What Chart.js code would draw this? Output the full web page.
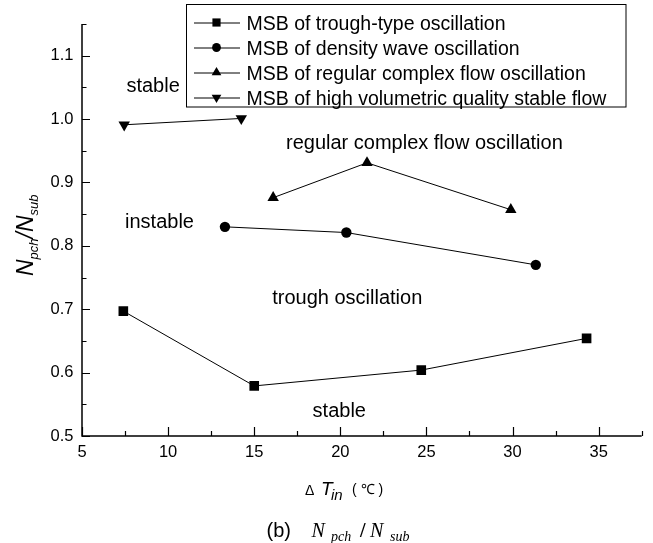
<!DOCTYPE html>
<html>
<head>
<meta charset="utf-8">
<script src="https://cdn.jsdelivr.net/npm/chart.js@4/dist/chart.umd.min.js"></script>
<style>
    html, body { margin: 0; padding: 0; background: #fff; }
    #wrap { width: 653px; height: 543px; }
</style>
</head>
<body>
<div id="wrap"><canvas id="chart" width="653" height="543"></canvas></div>
<script>
// values
const troughX = [7.4, 15.0, 24.7, 34.3];
const troughY = [0.697, 0.579, 0.604, 0.654];
const densityX = [13.3, 20.35, 31.35];
const densityY = [0.830, 0.821, 0.770];
const complexX = [16.1, 21.55, 29.9];
const complexY = [0.876, 0.931, 0.857];
const highQX = [7.45, 14.25];
const highQY = [0.991, 1.001];

const seriesLabels = [
    'MSB of trough-type oscillation',
    'MSB of density wave oscillation',
    'MSB of regular complex flow oscillation',
    'MSB of high volumetric quality stable flow'
];
const xTicks = [5, 10, 15, 20, 25, 30, 35];
const yTicks = [0.5, 0.6, 0.7, 0.8, 0.9, 1.0, 1.1];
const regionLabels = ['stable', 'instable', 'regular complex flow oscillation', 'trough oscillation', 'stable'];

const SANS = '"Liberation Sans", Arial, sans-serif';
const SERIF = '"Liberation Serif", "Times New Roman", serif';

function toPoints(xs, ys) {
    return xs.map((x, i) => ({ x: x, y: ys[i] }));
}

function series(label, xs, ys, style, radius, rotation) {
    return {
        label: label,
        data: toPoints(xs, ys),
        showLine: true,
        borderColor: '#000',
        borderWidth: 1,
        backgroundColor: '#000',
        pointStyle: style,
        pointRadius: radius,
        pointRotation: rotation || 0,
        pointBorderWidth: 0,
        pointBackgroundColor: '#000'
    };
}

// axes, inward ticks, legend box and text labels
const decorations = {
    id: 'decorations',
    afterDraw(chart) {
        const ctx = chart.ctx;
        const xs = chart.scales.x, ys = chart.scales.y;
        const area = chart.chartArea;
        ctx.save();
        ctx.strokeStyle = '#000';
        ctx.fillStyle = '#000';

        ctx.lineWidth = 1.5;
        ctx.beginPath();
        ctx.moveTo(area.left, area.top);
        ctx.lineTo(area.left, area.bottom);
        ctx.lineTo(area.right, area.bottom);
        ctx.stroke();

        ctx.lineWidth = 1.2;
        ctx.beginPath();
        for (let v = 5; v <= 37.5; v += 2.5) {
            const px = Math.round(xs.getPixelForValue(v)) + 0.5;
            const len = (v % 5 === 0) ? 9 : 5;
            ctx.moveTo(px, area.bottom);
            ctx.lineTo(px, area.bottom - len);
        }
        for (let k = 0; k <= 13; k++) {
            const v = 0.5 + k * 0.05;
            const py = Math.round(ys.getPixelForValue(v)) + 0.5;
            const len = (k % 2 === 0) ? 8 : 4.5;
            ctx.moveTo(area.left, py);
            ctx.lineTo(area.left + len, py);
        }
        ctx.stroke();

        // region labels, placed in data units
        const spots = [[9.13, 1.042], [9.5, 0.828], [24.88, 0.953], [20.4, 0.7085], [19.94, 0.530]];
        ctx.font = '20px ' + SANS;
        ctx.textAlign = 'center';
        ctx.textBaseline = 'alphabetic';
        regionLabels.forEach((t, i) => {
            ctx.fillText(t, xs.getPixelForValue(spots[i][0]), ys.getPixelForValue(spots[i][1]));
        });

        // legend
        ctx.lineWidth = 1;
        ctx.strokeRect(186.5, 4.5, 439.5, 102.5);
        chart.data.datasets.forEach((ds, i) => {
            const cy = 22.5 + i * 25;
            ctx.beginPath();
            ctx.moveTo(194, cy + 0.5);
            ctx.lineTo(240, cy + 0.5);
            ctx.stroke();
            Chart.helpers.drawPoint(ctx, {
                pointStyle: ds.pointStyle,
                radius: ds.pointRadius * 0.85,
                rotation: ds.pointRotation,
                borderWidth: 0
            }, 216.5, cy);
            ctx.font = '19.5px ' + SANS;
            ctx.textAlign = 'left';
            ctx.fillText(ds.label, 246.5, cy + 7);
        });

        // x title
        ctx.textAlign = 'left';
        ctx.font = '14px ' + SANS;
        ctx.fillText('\u0394', 305, 494.5);
        ctx.font = 'italic 19px ' + SANS;
        ctx.fillText('T', 321, 495);
        ctx.font = 'italic 15px ' + SANS;
        ctx.fillText('in', 331, 500);
        ctx.font = '14px ' + SANS;
        ctx.fillText('( \u2103 )', 352, 494);

        // caption
        ctx.font = '20px ' + SANS;
        ctx.fillText('(b)', 266.5, 537);
        ctx.font = 'italic 20px ' + SERIF;
        ctx.fillText('N', 311.5, 537);
        ctx.fillText('N', 370, 537);
        ctx.font = 'italic 14px ' + SERIF;
        ctx.fillText('pch', 331, 541);
        ctx.fillText('sub', 390, 541);
        ctx.font = 'bold 20px ' + SERIF;
        ctx.fillText('/', 360, 537);

        // y title, rotated
        ctx.translate(33, 276);
        ctx.rotate(-Math.PI / 2);
        ctx.font = 'italic 23px ' + SANS;
        let x = 0;
        ctx.fillText('N', x, 0); x += ctx.measureText('N').width;
        ctx.font = 'italic 13px ' + SANS;
        ctx.fillText('pch', x, 5); x += ctx.measureText('pch').width;
        ctx.font = 'italic 23px ' + SANS;
        ctx.fillText('/', x, 0); x += ctx.measureText('/').width;
        ctx.fillText('N', x, 0); x += ctx.measureText('N').width;
        ctx.font = 'italic 13px ' + SANS;
        ctx.fillText('sub', x, 5);
        ctx.restore();
    }
};

new Chart(document.getElementById('chart'), {
    type: 'scatter',
    data: {
        datasets: [
            series(seriesLabels[0], troughX, troughY, 'rect', 6.8),
            series(seriesLabels[1], densityX, densityY, 'circle', 5.2),
            series(seriesLabels[2], complexX, complexY, 'triangle', 6.6),
            series(seriesLabels[3], highQX, highQY, 'triangle', 6.6, 180)
        ]
    },
    options: {
        responsive: false,
        animation: false,
        layout: { padding: { top: 24, right: 11.3, left: 0, bottom: 0 } },
        plugins: {
            legend: { display: false },
            tooltip: { enabled: false }
        },
        scales: {
            x: {
                type: 'linear',
                min: 5,
                max: 37.5,
                afterBuildTicks: (s) => { s.ticks = xTicks.map(v => ({ value: v })); },
                afterFit: (s) => { s.height = 107; },
                grid: { display: false, drawTicks: false },
                border: { display: false },
                ticks: {
                    padding: 7,
                    color: '#000',
                    maxRotation: 0,
                    font: { size: 16.5, family: SANS },
                    callback: (v) => String(v)
                }
            },
            y: {
                type: 'linear',
                min: 0.5,
                max: 1.15,
                afterBuildTicks: (s) => { s.ticks = yTicks.map(v => ({ value: v })); },
                afterFit: (s) => { s.width = 82; },
                grid: { display: false, drawTicks: false },
                border: { display: false },
                ticks: {
                    padding: 8.5,
                    color: '#000',
                    font: { size: 16.5, family: SANS },
                    callback: (v) => v.toFixed(1)
                }
            }
        }
    },
    plugins: [decorations]
});
</script>
</body>
</html>
